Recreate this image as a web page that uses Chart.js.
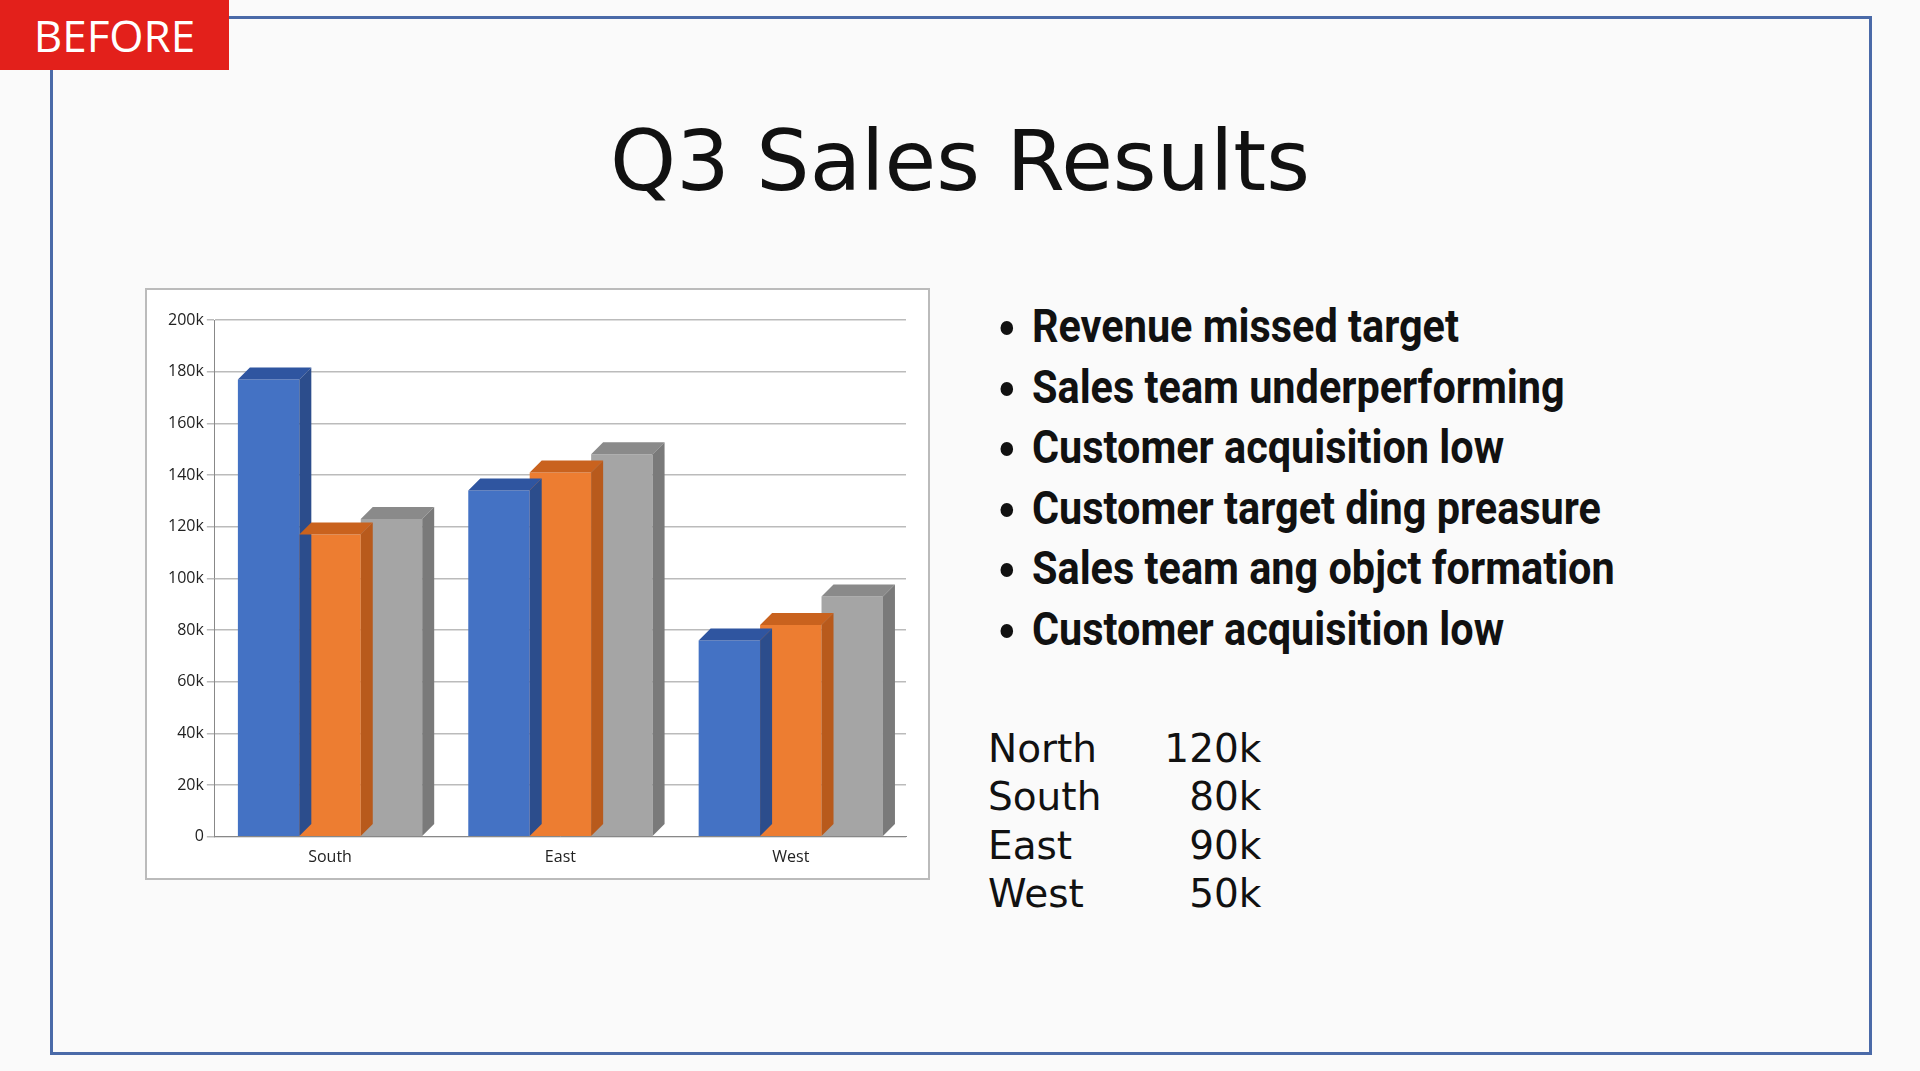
<!DOCTYPE html>
<html>
<head>
<meta charset="utf-8">
<script src="https://cdn.jsdelivr.net/npm/chart.js@4"></script>
<style>
	body { margin: 0; width: 1920px; height: 1071px; background: #fafafa; position: relative; overflow: hidden; font-family: "DejaVu Sans", sans-serif; }
	#frame { position: absolute; left: 50px; top: 16px; width: 1816px; height: 1033px; border: 3px solid #4a6aa8; }
	#tag { position: absolute; left: 0; top: 0; width: 229px; height: 70px; background: #e3201b; color: #fff; font: 44px "Open Sans", sans-serif; line-height: 70px; text-align: center; }
	h1 { position: absolute; left: 0; width: 1920px; top: 112px; margin: 0; text-align: center; font: 400 84px "Comic Sans MS", "DejaVu Sans", cursive; color: #111; }
	#box { position: absolute; left: 145px; top: 288px; width: 781px; height: 588px; border: 2px solid #bbb; background: #fff; }
	ul { position: absolute; left: 990px; top: 296px; margin: 0; padding: 0 0 0 42px; font: bold 46px "Liberation Sans Narrow", "Roboto", sans-serif; color: #111; line-height: 60.5px; }
	ul li { transform: scaleX(0.9); transform-origin: left; white-space: nowrap; }
	table { position: absolute; left: 988px; top: 724px; border-collapse: collapse; font: 39px "Comic Sans MS", "DejaVu Sans", cursive; color: #111; }
	td { padding: 0; height: 48.5px; }
	td.v { text-align: right; width: 160px; }
</style>
</head>
<body>
<div id="frame"></div>
<div id="tag">BEFORE</div>
<h1>Q3 Sales Results</h1>
<div id="box"><canvas id="chart"></canvas></div>
<ul id="bullets"></ul>
<table id="regions"></table>
<script>
const categories = ['South', 'East', 'West'];
const series1 = [177000, 134000, 76000];
const series2 = [117000, 141000, 82000];
const series3 = [123000, 148000, 93000];
const yTicks = ['0', '20k', '40k', '60k', '80k', '100k', '120k', '140k', '160k', '180k', '200k'];
const bullets = ['Revenue missed target', 'Sales team underperforming', 'Customer acquisition low',
	'Customer target ding preasure', 'Sales team ang objct formation', 'Customer acquisition low'];
const regionNames = ['North', 'South', 'East', 'West'];
const regionValues = ['120k', '80k', '90k', '50k'];

document.getElementById('bullets').innerHTML = bullets.map((b) => '<li>' + b + '</li>').join('');
document.getElementById('regions').innerHTML = regionNames
	.map((n, i) => '<tr><td>' + n + '</td><td class="v">' + regionValues[i] + '</td></tr>').join('');

// darker faces for a fake 3d look, from the bar elements themselves
const depth = {
	id: 'depth',
	afterDatasetsDraw(chart) {
		const ctx = chart.ctx, d = 12;
		chart.data.datasets.forEach((ds, i) => {
			chart.getDatasetMeta(i).data.forEach((bar) => {
				const l = bar.x - bar.width / 2, r = bar.x + bar.width / 2;
				ctx.fillStyle = ds.topColor;
				ctx.beginPath();
				ctx.moveTo(l, bar.y); ctx.lineTo(l + d, bar.y - d); ctx.lineTo(r + d, bar.y - d); ctx.lineTo(r, bar.y);
				ctx.fill();
				ctx.fillStyle = ds.sideColor;
				ctx.beginPath();
				ctx.moveTo(r, bar.y); ctx.lineTo(r + d, bar.y - d); ctx.lineTo(r + d, bar.base - d); ctx.lineTo(r, bar.base);
				ctx.fill();
			});
		});
	}
};

const mk = (data, c, top, side) => ({ data, backgroundColor: c, topColor: top, sideColor: side,
	barPercentage: 1, categoryPercentage: 0.8 });

new Chart(document.getElementById('chart'), {
	type: 'bar',
	data: {
		labels: categories,
		datasets: [
			mk(series1, '#4472c4', '#2f55a0', '#2c4d8c'),
			mk(series2, '#ed7d31', '#c9621e', '#b85a1c'),
			mk(series3, '#a5a5a5', '#8a8a8a', '#7a7a7a')
		]
	},
	options: {
		responsive: true,
		maintainAspectRatio: false,
		animation: false,
		layout: { padding: { top: 30, right: 22, left: 18, bottom: 8 } },
		plugins: { legend: { display: false }, tooltip: { enabled: false } },
		scales: {
			x: {
				grid: { display: false },
				border: { color: '#888' },
				ticks: { color: '#222', font: { family: 'Open Sans', size: 16 } }
			},
			y: {
				min: 0, max: 200000,
				ticks: { stepSize: 20000, color: '#222', font: { family: 'Open Sans', size: 16 },
					callback: (v) => yTicks[Math.round(v / 20000)] },
				grid: { color: '#bbb', lineWidth: 1.5 },
				border: { color: '#888' }
			}
		}
	},
	plugins: [depth]
});
</script>
</body>
</html>
